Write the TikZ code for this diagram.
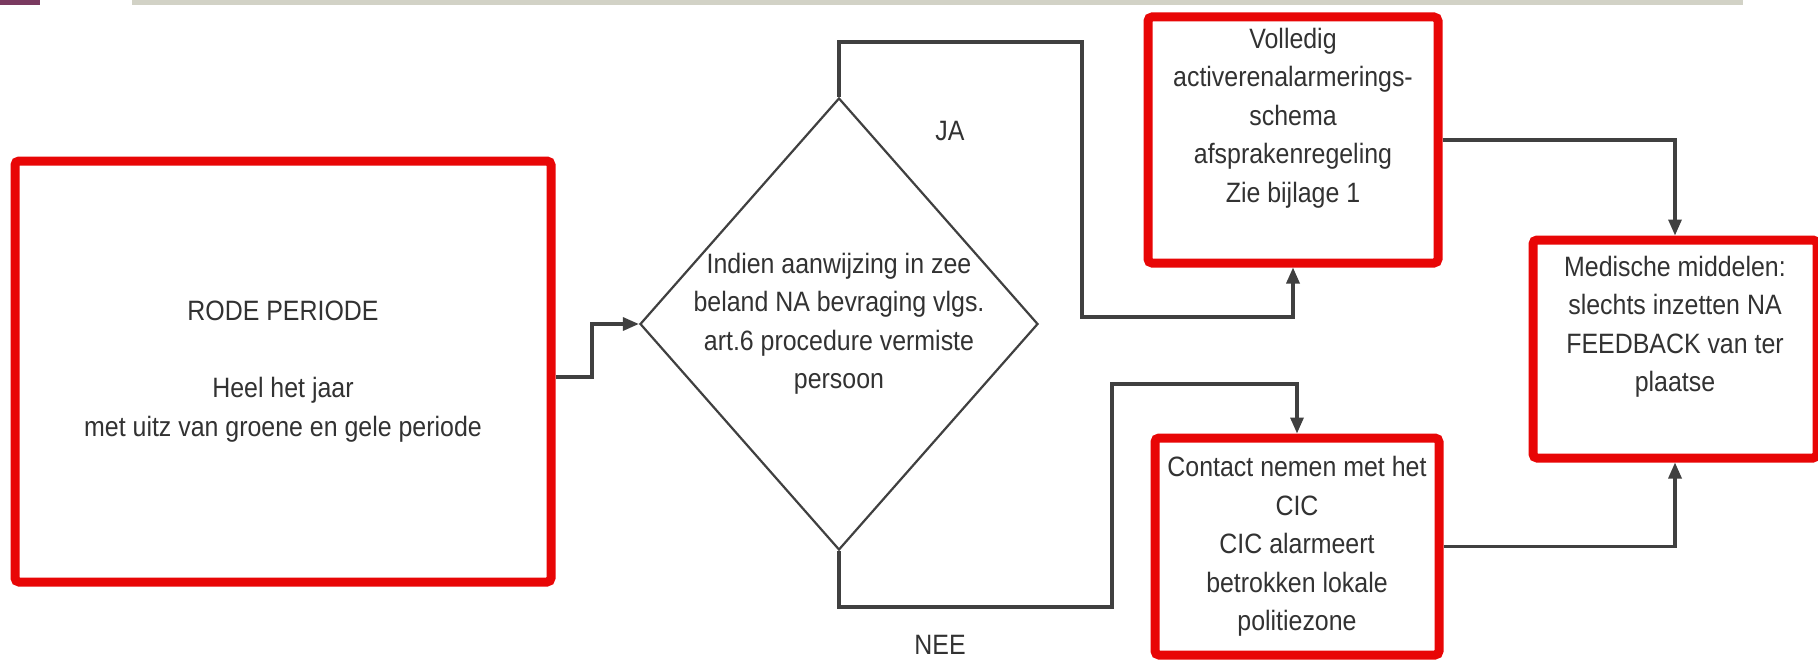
\documentclass[tikz,border=0pt]{standalone}
\usepackage{fontspec}
\setmainfont{Liberation Sans}[FakeStretch=0.89]
\usetikzlibrary{arrows.meta,shapes.geometric}
\definecolor{boxred}{RGB}{232,6,6}
\definecolor{linegray}{RGB}{64,64,64}
\definecolor{txtgray}{RGB}{50,50,50}
\definecolor{barpurple}{RGB}{122,58,96}
\definecolor{bargray}{RGB}{210,210,198}
\begin{document}
\begin{tikzpicture}[x=1pt,y=-1pt,
  redbox/.style={draw=boxred, line width=9pt, rounded corners=4pt, fill=white, inner sep=0pt, align=center, text=txtgray, font=\fontsize{28}{38.5}\selectfont},
  dia/.style={draw=linegray, line width=2.2pt, shape=diamond, inner sep=0pt, minimum width=398pt, minimum height=452pt},
  txt/.style={align=center, text=txtgray, font=\fontsize{28}{38.5}\selectfont, inner sep=0pt},
  conn/.style={draw=linegray, line width=3.2pt, -{Triangle[length=16pt,width=13pt]}}
]
\useasboundingbox (0,0) rectangle (1818,661);
\fill[white] (0,0) rectangle (1818,661);
% top decorations
\fill[barpurple] (0,0) rectangle (40,5);
\fill[bargray] (132,0) rectangle (1743,5);

% nodes
\node[redbox, minimum width=536pt, minimum height=421pt] (rode) at (283,371.5)
  {RODE PERIODE\\[38.5pt]Heel het jaar\\met uitz van groene en gele periode};
\node[dia] (d) at (839,324) {};
\node[txt] (dtext) at (839,324)
  {Indien aanwijzing in zee\\beland NA bevraging vlgs.\\art.6 procedure vermiste\\persoon};
\node[redbox, minimum width=290pt, minimum height=246pt] (vol) at (1293,140)
  {Volledig\\activerenalarmerings-\\schema\\afsprakenregeling\\Zie bijlage 1\\\strut};
\node[redbox, minimum width=284pt, minimum height=217pt] (cic) at (1297,546.5)
  {Contact nemen met het\\CIC\\CIC alarmeert\\betrokken lokale\\politiezone};
\node[redbox, minimum width=284pt, minimum height=218pt] (med) at (1675,349)
  {Medische middelen:\\slechts inzetten NA\\FEEDBACK van ter\\plaatse\\\strut};

\node[txt] (ja) at (950,131) {JA};
\node[txt] (nee) at (940,645) {NEE};

% bend points
\coordinate (r1) at (592,324);
\coordinate (jaA) at (1082,42);
\coordinate (jaB) at (1082,317);
\coordinate (neA) at (1112,607);
\coordinate (neB) at (1112,384);

% connectors
\draw[conn] ([yshift=-5.5pt]rode.east) -| (r1) -- (d.west);
\draw[conn] (d.north) |- (jaA) -- (jaB) -| (vol.south);
\draw[conn] (d.south) |- (neA) -- (neB) -| (cic.north);
\draw[conn] (vol.east) -| (med.north);
\draw[conn] (cic.east) -| (med.south);
\end{tikzpicture}
\end{document}
